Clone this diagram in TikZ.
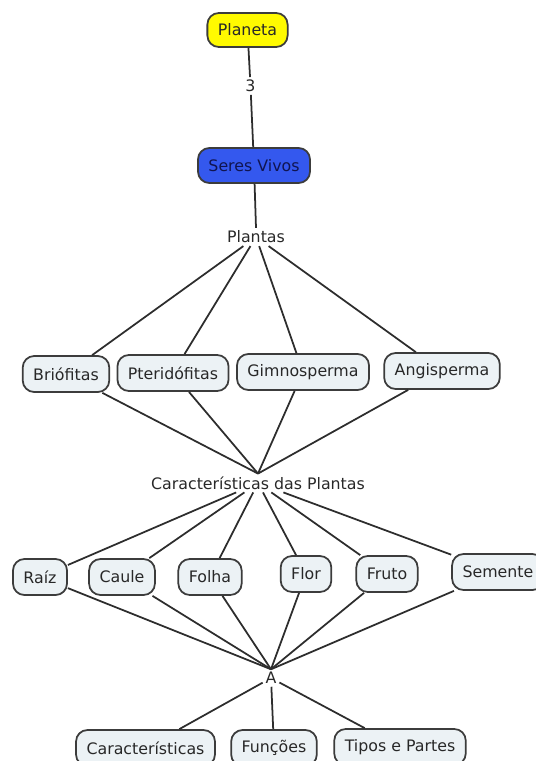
\documentclass[tikz,border=0pt]{standalone}
\usepackage{fontspec}
\setmainfont{DejaVu Sans}
\usepackage{xcolor}
\usetikzlibrary{positioning}
\definecolor{boxfill}{RGB}{236,242,245}
\definecolor{boxline}{RGB}{60,60,60}
\definecolor{lnk}{RGB}{45,45,45}
\definecolor{txt}{RGB}{40,40,40}
\definecolor{vivo}{RGB}{52,88,238}
\definecolor{vivotxt}{RGB}{16,20,80}
\definecolor{amarelo}{RGB}{255,250,0}

\begin{document}
\begin{tikzpicture}[x=0.02cm,y=-0.02cm,
    box/.style={draw=boxline,line width=1pt,rounded corners=6.5pt,fill=boxfill,
      minimum height=0.72cm,inner xsep=0.21cm,text=txt,font=\fontsize{9}{10}\selectfont},
    lab/.style={inner sep=1.5pt,text=txt,font=\fontsize{9}{10}\selectfont},
    con/.style={draw=lnk,line width=1pt}
  ]
    \useasboundingbox (0,0) rectangle (535,761);
    \node[box,fill=amarelo,minimum height=0.68cm] (pla) at (247.5,30) {Planeta};
    \node[lab] (tres) at (250.5,86) {3};
    \node[box,fill=vivo,text=vivotxt,minimum height=0.7cm] (ser) at (254,165.5) {Seres Vivos};
    \node[lab] (pl) at (256,237) {Plantas};
    \node[box] (bri) at (66,374) {Briófitas};
    \node[box] (pte) at (173,373) {Pteridófitas};
    \node[box] (gim) at (303,372) {Gimnosperma};
    \node[box] (ang) at (442,371) {Angisperma};
    \node[lab] (car) at (258,483) {Características das Plantas};
    \node[box] (rai) at (40,577) {Raíz};
    \node[box] (cau) at (122,577) {Caule};
    \node[box] (fol) at (210,577) {Folha};
    \node[box] (flo) at (306,574) {Flor};
    \node[box] (fru) at (387,574) {Fruto};
    \node[box] (sem) at (498,572) {Semente};
    \node[lab] (a) at (271,678) {A};
    \node[box] (cr) at (145.5,748) {Características};
    \node[box] (fun) at (274,748) {Funções};
    \node[box] (tip) at (400,747) {Tipos e Partes};
    \draw[con] (pla) -- (tres) -- (ser); \draw[con] (ser) -- (pl.north);
    \draw[con] (pl) -- (bri); \draw[con] (pl) -- (pte); \draw[con] (pl) -- (gim); \draw[con] (pl) -- (ang);
    \draw[con] (bri) -- (car.north); \draw[con] (pte) -- (car.north); \draw[con] (gim) -- (car.north); \draw[con] (ang) -- (car.north);
    \draw[con] (car) -- (rai); \draw[con] (car) -- (cau); \draw[con] (car) -- (fol);
    \draw[con] (car) -- (flo); \draw[con] (car) -- (fru); \draw[con] (car) -- (sem);
    \draw[con] (rai) -- (a.north); \draw[con] (cau) -- (a.north); \draw[con] (fol) -- (a.north);
    \draw[con] (flo) -- (a.north); \draw[con] (fru) -- (a.north); \draw[con] (sem) -- (a.north);
    \draw[con] (a) -- (cr); \draw[con] (a) -- (fun); \draw[con] (a) -- (tip);
  \end{tikzpicture}
\end{document}
